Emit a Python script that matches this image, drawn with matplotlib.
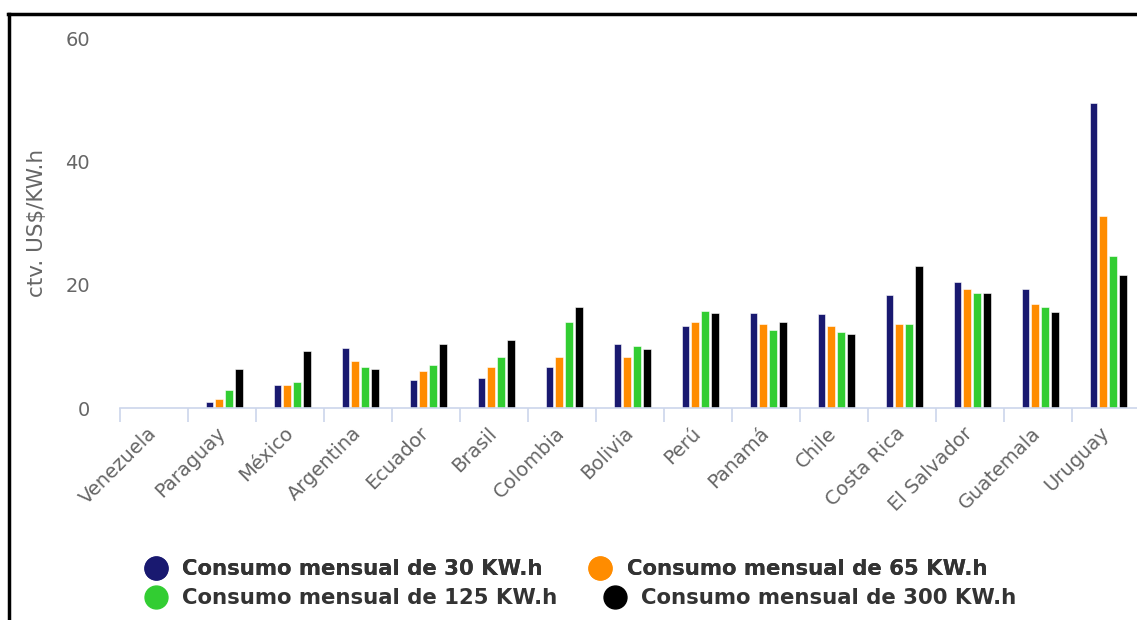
import numpy as np
import matplotlib.pyplot as plt
from matplotlib.lines import Line2D

# Tarifa electrica residencial por pais (ctv. US$/KW.h)
countries = ["Venezuela", "Paraguay", "México", "Argentina", "Ecuador", "Brasil",
             "Colombia", "Bolivia", "Perú", "Panamá", "Chile", "Costa Rica",
             "El Salvador", "Guatemala", "Uruguay"]

kwh_30 = [0.0, 1.0, 3.8, 9.8, 4.5, 4.8, 6.7, 10.4, 13.3, 15.4, 15.2, 18.3, 20.5, 19.3, 49.5]
kwh_65 = [0.0, 1.4, 3.8, 7.6, 6.0, 6.7, 8.2, 8.2, 13.9, 13.6, 13.3, 13.6, 19.3, 16.8, 31.2]
kwh_125 = [0.0, 2.9, 4.2, 6.7, 7.0, 8.2, 13.9, 10.1, 15.8, 12.6, 12.3, 13.6, 18.6, 16.4, 24.6]
kwh_300 = [0.0, 6.3, 9.2, 6.3, 10.4, 11.1, 16.4, 9.5, 15.4, 13.9, 12.0, 23.0, 18.6, 15.5, 21.5]

series = [kwh_30, kwh_65, kwh_125, kwh_300]
labels = ["Consumo mensual de 30 KW.h", "Consumo mensual de 65 KW.h",
          "Consumo mensual de 125 KW.h", "Consumo mensual de 300 KW.h"]
colors = ["#191970", "#ff8c00", "#32cd32", "#000000"]

W, H = 1137, 620
fig = plt.figure(figsize=(W / 100, H / 100), dpi=100)
ax = fig.add_axes([120 / W, 1 - 408 / H, 1020 / W, 370 / H])

x = np.arange(len(countries))
pitch = 0.143
width = 0.115
for i, (vals, col) in enumerate(zip(series, colors)):
    ax.bar(x + (i - 1.5) * pitch + 0.03, vals, width=width, color=col,
           edgecolor="white", linewidth=0.4)

ax.set_xlim(-0.5, len(countries) - 0.5)
ax.set_ylim(0, 60)
ax.set_yticks([0, 20, 40, 60])

for s in ["top", "right", "left"]:
    ax.spines[s].set_visible(False)
ax.spines["bottom"].set_color("#ccd6eb")
ax.spines["bottom"].set_linewidth(1.2)

ax.tick_params(axis="y", length=0, pad=21.6, labelsize=14, labelcolor="#666666")
ax.set_xticks(x)
ax.set_xticklabels(countries, rotation=45, ha="right", va="center",
                   rotation_mode="anchor", fontsize=14, color="#666666")
ax.tick_params(axis="x", which="major", length=0, pad=16)
ax.set_xticks(np.arange(-0.5, len(countries) - 0.4, 1), minor=True)
ax.tick_params(axis="x", which="minor", length=10, color="#ccd6eb", width=1.2)

ax.set_ylabel(r"ctv. US\$/KW.h", fontsize=15.5, color="#666666")
ax.yaxis.set_label_coords(-(120 - 47) / 1020, 0.5)

handles = [Line2D([], [], marker="o", linestyle="", markersize=16.5,
                  markerfacecolor=c, markeredgecolor=c) for c in colors]

leg_kw = dict(ncol=2, loc="center left", frameon=False,
              prop={"weight": "bold", "size": 15.3}, labelcolor="#333333",
              handletextpad=0.75, columnspacing=2.2, borderpad=0,
              handlelength=1.0, borderaxespad=0)
leg1 = fig.legend(handles[:2], labels[:2], bbox_to_anchor=(145 / W, 1 - 569 / H), **leg_kw)
leg2 = fig.legend(handles[2:], labels[2:], bbox_to_anchor=(145 / W, 1 - 598 / H), **leg_kw)
fig.add_artist(leg1)

# marco negro de la captura
fig.add_artist(Line2D([8 / W, 1], [1 - 14 / H, 1 - 14 / H], color="black", linewidth=2.5))
fig.add_artist(Line2D([9 / W, 9 / W], [0, 1 - 14 / H], color="black", linewidth=2.5))

fig.savefig("out.png", dpi=100)
